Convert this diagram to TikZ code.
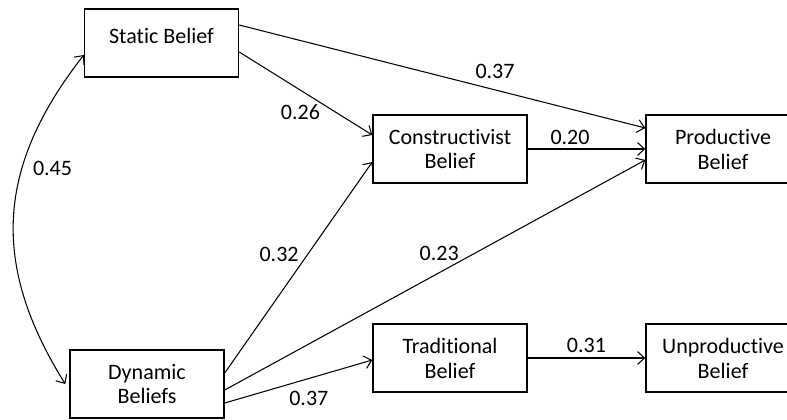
\documentclass[tikz,border=0pt]{standalone}
\usepackage{fontspec}
\setmainfont[Ligatures=NoCommon]{Carlito}
\usepackage{tikz}
\usetikzlibrary{calc,arrows.meta}

\tikzset{
  belief/.style={draw, line width=1.2pt, minimum width=4.62cm, minimum height=2.04cm,
    inner sep=0pt, align=center},
  path/.style={line width=0.9pt, -{Straight Barb[length=6pt,width=11pt,line width=0.9pt]}},
  coef/.style={inner sep=0pt}
}

\begin{document}
\begin{tikzpicture}[x=0.03cm, y=-0.03cm, font=\fontsize{18.8}{21.3}\selectfont]
\clip (0,0) rectangle (787,419);
\node[belief] (static) at (161.5,43) {Static Belief\\[-9pt]\mbox{}};
\node[belief] (dynamic) at (147,384) {Dynamic\\Beliefs};
\node[belief] (constr) at (450,149) {Constructivist\\Belief};
\node[belief] (prod) at (723,149) {Productive\\Belief};
\node[belief] (trad) at (450,358) {Traditional\\Belief};
\node[belief] (unprod) at (723,358) {Unproductive\\Belief};

% static belief
\draw[path] ($(static.east)+(0,-18)$) -- node[coef, pos=0.63, above=9pt] {0.37} ($(prod.west)+(0,-21)$);
\draw[path] ($(static.east)+(0,9)$) -- node[coef, pos=0.46, below=12pt] {0.26} ($(constr.west)+(0,-14)$);
\draw[path] (constr.east) -- node[coef, pos=0.36, above=3pt] {0.20} (prod.west);

% dynamic beliefs
\draw[path] ($(dynamic.east)+(0,-11)$) -- node[coef, pos=0.56, left=7pt] {0.32} ($(constr.west)+(0,13)$);
\draw[path] ($(dynamic.east)+(0,6)$) -- node[coef, pos=0.51, above=10pt] {0.23} ($(prod.west)+(0,11)$);
\draw[path] ($(dynamic.east)+(0,19)$) -- node[coef, pos=0.57, below=10pt] {0.37} ($(trad.west)+(0,2)$);
\draw[path] (trad.east) -- node[coef, pos=0.5, above=4pt] {0.31} (unprod.west);

% correlation
\draw[line width=0.9pt, {Straight Barb[length=6pt,width=11pt,line width=0.9pt]}-{Straight Barb[length=6pt,width=11pt,line width=0.9pt]}]
  ($(static.west)+(0,12)$) to[out=232, in=122, looseness=1.1]
  node[coef, pos=0.35, right=9pt] {0.45} ($(dynamic.west)+(-4,0)$);
\end{tikzpicture}
\end{document}
